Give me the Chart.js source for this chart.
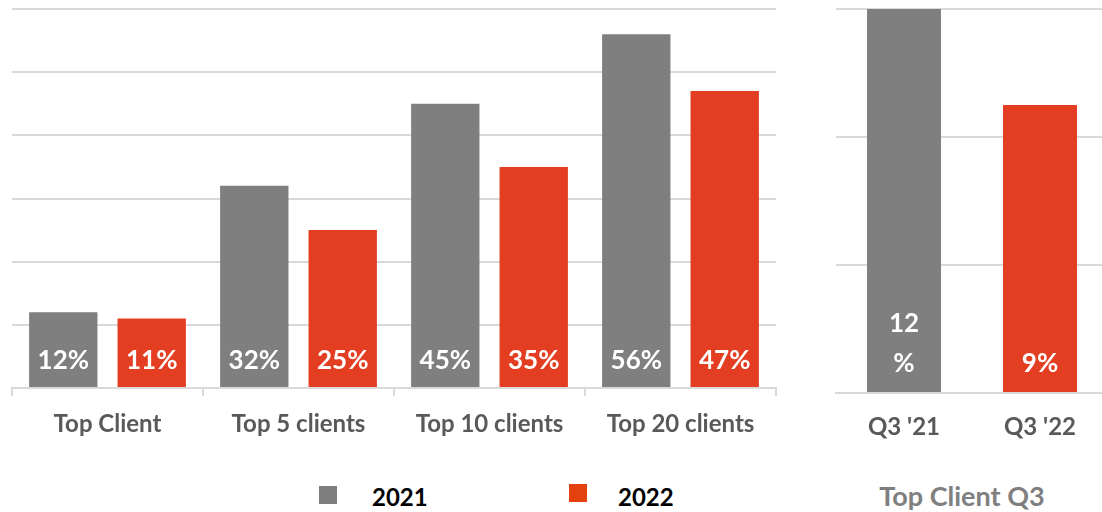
<!DOCTYPE html>
<html>
<head>
<meta charset="utf-8">
<script src="https://cdn.jsdelivr.net/npm/chart.js@4"></script>
<style>
  html, body { margin: 0; padding: 0; background: #fff; }
  body { width: 1102px; height: 512px; position: relative; overflow: hidden; font-family: Lato, sans-serif; }
  #left { position: absolute; left: 0; top: 0; width: 790px; height: 460px; }
  #right { position: absolute; left: 826px; top: 0; width: 290px; height: 460px; }
  .legend { position: absolute; top: 480px; height: 32px; font-weight: bold; font-size: 24px; color: #000; }
  .legend span.box { position: absolute; top: 6px; width: 18px; height: 18px; }
  .legend span.txt { position: absolute; left: 53px; top: 2px; white-space: nowrap; }
  #q3title { position: absolute; left: 862px; width: 200px; top: 479px; text-align: center;
             font-weight: bold; font-size: 27px; color: #7f7f7f; white-space: nowrap; }
</style>
</head>
<body>
<div id="left"><canvas id="leftChart"></canvas></div>
<div id="right"><canvas id="rightChart"></canvas></div>
<div class="legend" style="left:319px"><span class="box" style="background:#7f7f7f"></span><span class="txt">2021</span></div>
<div class="legend" style="left:569px"><span class="box" style="background:#e3420f;top:4px"></span><span class="txt" style="left:49px">2022</span></div>
<div id="q3title"></div>

<script>
// Data
const categories = ['Top Client', 'Top 5 clients', 'Top 10 clients', 'Top 20 clients'];
const values2021 = [12, 32, 45, 56];
const values2022 = [11, 25, 35, 47];
const seriesNames = ['2021', '2022'];

const q3Labels = ["Q3 '21", "Q3 '22"];
const q3Values = [12, 9];
const q3Text = [['12', '%'], ['9%']]; // label wraps inside the narrow bar
const q3Title = 'Top Client Q3';

const gray = '#7f7f7f';
const red = '#e43e22';
const gridColor = '#d9d9d9';
const tickColor = '#595959';

document.getElementById('q3title').textContent = q3Title;

// white value labels near the bottom of each bar
const barLabels = {
    id: 'barLabels',
    afterDatasetsDraw(chart, args, opts) {
        const ctx = chart.ctx;
        ctx.save();
        ctx.fillStyle = '#fff';
        ctx.font = opts.font;
        ctx.textAlign = 'center';
        ctx.textBaseline = 'middle';
        chart.data.datasets.forEach((ds, i) => {
            chart.getDatasetMeta(i).data.forEach((bar, j) => {
                const lines = opts.text(i, j);
                lines.forEach((line, k) => {
                    const y = bar.base - opts.offset - (lines.length - 1 - k) * opts.lineHeight;
                    ctx.fillText(line, bar.x, y);
                });
            });
        });
        ctx.restore();
    }
};

new Chart(document.getElementById('leftChart'), {
    type: 'bar',
    data: {
        labels: categories,
        datasets: [
            { label: seriesNames[0], data: values2021, backgroundColor: gray },
            { label: seriesNames[1], data: values2022, backgroundColor: red }
        ]
    },
    options: {
        responsive: true,
        maintainAspectRatio: false,
        animation: false,
        categoryPercentage: 0.926,
        barPercentage: 0.773,
        layout: { padding: { left: 12, right: 14, top: 9, bottom: 0 } },
        plugins: {
            legend: { display: false },
            tooltip: { enabled: false },
            barLabels: {
                font: 'bold 26px Lato',
                offset: 26,
                lineHeight: 40,
                text: (i, j) => [(i === 0 ? values2021 : values2022)[j] + '%']
            }
        },
        scales: {
            x: {
                afterFit: s => { s.height = 72; },
                grid: { display: true, drawOnChartArea: false, offset: true, tickLength: 8, color: gridColor, lineWidth: 2 },
                border: { display: true, color: gridColor, width: 2 },
                ticks: { color: tickColor, padding: 14, font: { family: 'Lato', size: 24, weight: 'bold' } }
            },
            y: {
                min: 0,
                max: 60,
                afterFit: s => { s.width = 0; },
                ticks: { display: false, stepSize: 10 },
                border: { display: false },
                grid: { color: gridColor, lineWidth: 2, drawTicks: false }
            }
        }
    },
    plugins: [barLabels]
});

new Chart(document.getElementById('rightChart'), {
    type: 'bar',
    data: {
        labels: q3Labels,
        datasets: [
            { label: q3Title, data: q3Values, backgroundColor: [gray, red] }
        ]
    },
    options: {
        responsive: true,
        maintainAspectRatio: false,
        animation: false,
        categoryPercentage: 1,
        barPercentage: 0.544,
        layout: { padding: { left: 10, right: 8, top: 9, bottom: 0 } },
        plugins: {
            legend: { display: false },
            tooltip: { enabled: false },
            barLabels: {
                font: 'bold 26px Lato',
                offset: 28,
                lineHeight: 40,
                text: (i, j) => q3Text[j]
            }
        },
        scales: {
            x: {
                afterFit: s => { s.height = 67; },
                grid: { display: false },
                border: { display: true, color: gridColor, width: 2 },
                ticks: { color: tickColor, padding: 12, font: { family: 'Lato', size: 24, weight: 'bold' } }
            },
            y: {
                min: 0,
                max: 12,
                afterFit: s => { s.width = 0; },
                ticks: { display: false, stepSize: 4 },
                border: { display: false },
                grid: { color: gridColor, lineWidth: 2, drawTicks: false }
            }
        }
    },
    plugins: [barLabels]
});
</script>
</body>
</html>
